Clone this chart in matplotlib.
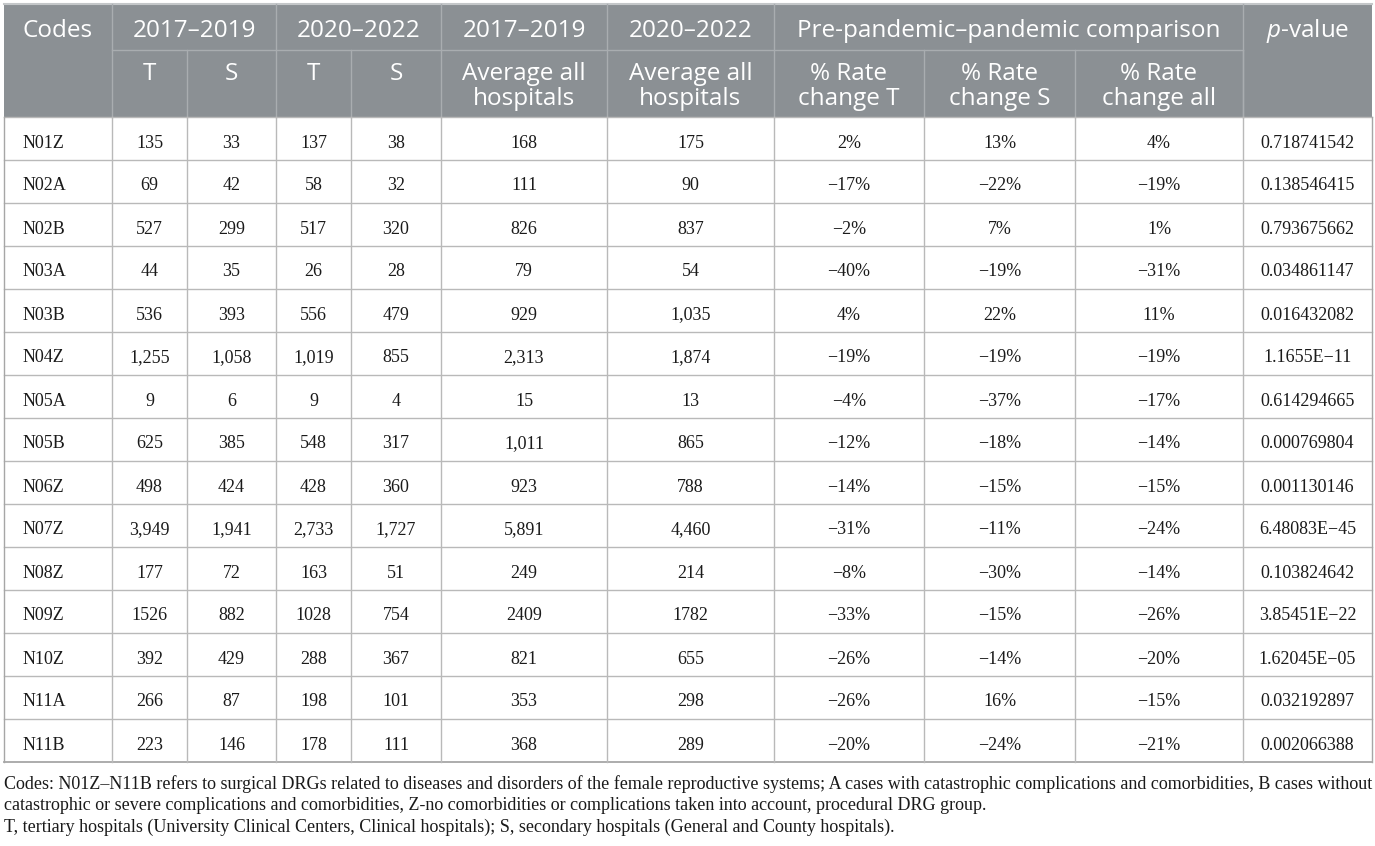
import matplotlib
matplotlib.use("Agg")
import matplotlib.pyplot as plt
from matplotlib.patches import Rectangle

plt.rcParams['mathtext.fontset'] = 'custom'
plt.rcParams['mathtext.rm'] = 'Open Sans'
plt.rcParams['mathtext.it'] = 'Open Sans:italic'

# table data (as printed)
codes = ['N01Z', 'N02A', 'N02B', 'N03A', 'N03B', 'N04Z', 'N05A', 'N05B',
         'N06Z', 'N07Z', 'N08Z', 'N09Z', 'N10Z', 'N11A', 'N11B']
t_1719 = ['135', '69', '527', '44', '536', '1,255', '9', '625', '498', '3,949',
          '177', '1526', '392', '266', '223']
s_1719 = ['33', '42', '299', '35', '393', '1,058', '6', '385', '424', '1,941',
          '72', '882', '429', '87', '146']
t_2022 = ['137', '58', '517', '26', '556', '1,019', '9', '548', '428', '2,733',
          '163', '1028', '288', '198', '178']
s_2022 = ['38', '32', '320', '28', '479', '855', '4', '317', '360', '1,727',
          '51', '754', '367', '101', '111']
avg_1719 = ['168', '111', '826', '79', '929', '2,313', '15', '1,011', '923',
            '5,891', '249', '2409', '821', '353', '368']
avg_2022 = ['175', '90', '837', '54', '1,035', '1,874', '13', '865', '788',
            '4,460', '214', '1782', '655', '298', '289']
chg_t = ['2%', '−17%', '−2%', '−40%', '4%', '−19%', '−4%', '−12%', '−14%',
         '−31%', '−8%', '−33%', '−26%', '−26%', '−20%']
chg_s = ['13%', '−22%', '7%', '−19%', '22%', '−19%', '−37%', '−18%', '−15%',
         '−11%', '−30%', '−15%', '−14%', '16%', '−24%']
chg_all = ['4%', '−19%', '1%', '−31%', '11%', '−19%', '−17%', '−14%', '−15%',
           '−24%', '−14%', '−26%', '−20%', '−15%', '−21%']
p_values = ['0.718741542', '0.138546415', '0.793675662', '0.034861147',
            '0.016432082', '1.1655E−11', '0.614294665', '0.000769804',
            '0.001130146', '6.48083E−45', '0.103824642', '3.85451E−22',
            '1.62045E−05', '0.032192897', '0.002066388']

top_headers = [('Codes', 0, 1), ('2017–2019', 1, 3), ('2020–2022', 3, 5),
               ('2017–2019', 5, 6), ('2020–2022', 6, 7),
               ('Pre-pandemic–pandemic comparison', 7, 10),
               (r'$\mathit{p}$-value', 10, 11)]
sub_headers = ['', 'T', 'S', 'T', 'S', 'Average all\nhospitals',
               'Average all\nhospitals', '% Rate\nchange T', '% Rate\nchange S',
               '% Rate\nchange all', '']

footnotes = [
    'Codes: N01Z–N11B refers to surgical DRGs related to diseases and disorders of the female reproductive systems; A cases with catastrophic complications and comorbidities, B cases without',
    'catastrophic or severe complications and comorbidities, Z-no comorbidities or complications taken into account, procedural DRG group.',
    'T, tertiary hospitals (University Clinical Centers, Clinical hospitals); S, secondary hospitals (General and County hospitals).',
]

columns = [codes, t_1719, s_1719, t_2022, s_2022, avg_1719, avg_2022,
           chg_t, chg_s, chg_all, p_values]

# layout (pixels)
W, H = 1375, 846
xs = [4, 112, 187, 276, 351, 441, 607, 774, 924, 1075, 1243, 1372]
y_top, y_mid, y_head = 4, 50, 117
row_h = 43
y_bot = y_head + row_h * len(codes)

head_bg = '#8b9094'
head_line = '#a9adb0'
body_line = '#b9b9b9'
border = '#a6a6a6'
ink = '#1a1a1a'
sans = 'Open Sans'
serif = ['Liberation Serif', 'DejaVu Serif']
head_fs = 17.5
body_fs = 13
foot_fs = 13

fig = plt.figure(figsize=(W / 100, H / 100), dpi=100)
ax = fig.add_axes([0, 0, 1, 1])
ax.set_xlim(0, W)
ax.set_ylim(H, 0)
ax.axis('off')

# header
ax.add_patch(Rectangle((xs[0], y_top), xs[-1] - xs[0], y_head - y_top,
                       facecolor=head_bg, edgecolor='none'))
ax.plot([xs[0], xs[-1]], [y_top, y_top], color='#c4c7c9', lw=1.5)
ax.plot([xs[1], xs[10]], [y_mid, y_mid], color=head_line, lw=1)
for label, c0, c1 in top_headers:
    if c1 < 11:
        ax.plot([xs[c1], xs[c1]], [y_top, y_head if c1 in (1, 10) else y_mid],
                color=head_line, lw=1)
    ax.text((xs[c0] + xs[c1]) / 2, 37, label, color='white', family=sans,
            fontsize=head_fs, ha='center', va='baseline')
for i, label in enumerate(sub_headers):
    if 1 <= i <= 9:
        ax.plot([xs[i + 1], xs[i + 1]], [y_mid, y_head], color=head_line, lw=1)
    for k, line in enumerate(label.split('\n')):
        if line:
            ax.text((xs[i] + xs[i + 1]) / 2, 80 + 25 * k, line, color='white',
                    family=sans, fontsize=head_fs, ha='center', va='baseline')

# body grid
for r in range(len(codes) + 1):
    y = y_head + r * row_h
    last = r == len(codes)
    ax.plot([xs[0], xs[-1]], [y, y], color=border if last else body_line,
            lw=1.3 if last else 1)
for i, x in enumerate(xs):
    ax.plot([x, x], [y_head, y_bot],
            color=border if i in (0, len(xs) - 1) else body_line, lw=1)

# body text
for c, col in enumerate(columns):
    for r, val in enumerate(col):
        yb = y_head + row_h * r + 30.5
        if c == 0:
            ax.text(xs[0] + 19, yb, val, family=serif, fontsize=body_fs,
                    ha='left', va='baseline', color=ink)
        else:
            ax.text((xs[c] + xs[c + 1]) / 2, yb, val, family=serif,
                    fontsize=body_fs, ha='center', va='baseline', color=ink)

# footnotes: first line justified to the table width with hair spaces
foot_y = [789, 810.5, 832]
renderer = fig.canvas.get_renderer()


def text_width(s):
    probe = ax.text(0, 0, s, family=serif, fontsize=foot_fs)
    w = probe.get_window_extent(renderer).width
    probe.remove()
    return w


hair = '\u200a'
hair_w = (text_width('x' + hair * 20 + 'x') - text_width('xx')) / 20
words = footnotes[0].split(' ')
extra = (xs[-1] - 2 - xs[0]) - text_width(footnotes[0])
per_gap = extra / (len(words) - 1)
line1 = words[0]
err = 0.0
for w in words[1:]:
    want = per_gap / hair_w + err
    n = max(0, int(round(want)))
    err = want - n
    line1 += ' ' + hair * n + w
ax.text(xs[0], foot_y[0], line1, family=serif, fontsize=foot_fs,
        ha='left', va='baseline', color=ink)
for line, y in zip(footnotes[1:], foot_y[1:]):
    ax.text(xs[0], y, line, family=serif, fontsize=foot_fs,
            ha='left', va='baseline', color=ink)

fig.savefig('out.png', dpi=100)
